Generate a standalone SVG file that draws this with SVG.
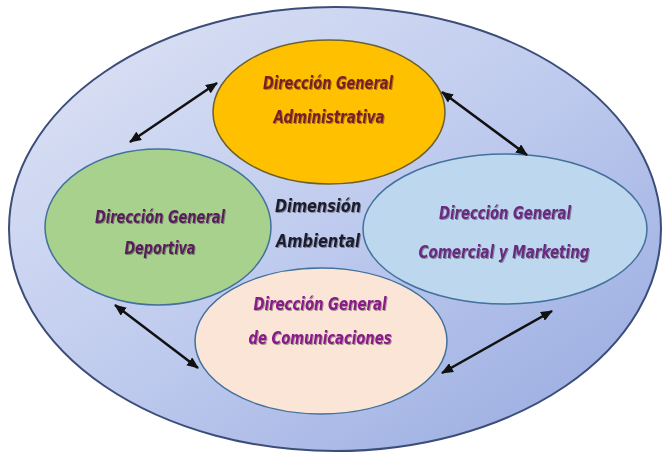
<svg xmlns="http://www.w3.org/2000/svg" width="665" height="456" viewBox="0 0 665 456">
<defs>
<linearGradient id="outerGrad" x1="0" y1="0" x2="1" y2="1">
<stop offset="0" stop-color="#dfe4f5"/>
<stop offset="0.5" stop-color="#bfcbee"/>
<stop offset="1" stop-color="#95a8df"/>
</linearGradient>
<filter id="shadow" x="-10%" y="-30%" width="120%" height="160%">
<feDropShadow dx="1" dy="1" stdDeviation="0.6" flood-color="#000" flood-opacity="0.35"/>
</filter>
<marker id="head" viewBox="0 0 12 10" refX="11" refY="5" markerWidth="12" markerHeight="10" markerUnits="userSpaceOnUse" orient="auto-start-reverse">
<path d="M0,0 L12,5 L0,10 Z" fill="#111"/>
</marker>
</defs>
<style>
.lbl{font-family:"Liberation Sans Narrow","DejaVu Sans Condensed","Liberation Sans",sans-serif;font-weight:bold;font-style:italic;font-size:17px;text-anchor:middle;filter:url(#shadow)}
.conn line{stroke:#111;stroke-width:2.5;marker-start:url(#head);marker-end:url(#head)}
</style>
<g id="outer">
<ellipse cx="335" cy="229" rx="326" ry="222" fill="url(#outerGrad)" stroke="#3b4d78" stroke-width="2"/>
<text class="lbl" x="318" y="212" fill="#1f1f2e" textLength="86" lengthAdjust="spacingAndGlyphs">Dimensión</text>
<text class="lbl" x="318" y="247" fill="#1f1f2e" textLength="84" lengthAdjust="spacingAndGlyphs">Ambiental</text>
</g>
<g id="deportiva">
<ellipse cx="158" cy="227" rx="113" ry="78" fill="#a9d18e" stroke="#41719c" stroke-width="1.5"/>
<text class="lbl" x="160" y="223" fill="#5a1f5e" textLength="130" lengthAdjust="spacingAndGlyphs">Dirección General</text>
<text class="lbl" x="160" y="254" fill="#5a1f5e" textLength="71" lengthAdjust="spacingAndGlyphs">Deportiva</text>
</g>
<g id="comercial">
<ellipse cx="505" cy="229" rx="142" ry="75" fill="#bdd7ee" stroke="#41719c" stroke-width="1.5"/>
<text class="lbl" x="505" y="219" fill="#6a2a80" textLength="132" lengthAdjust="spacingAndGlyphs">Dirección General</text>
<text class="lbl" x="504" y="258" fill="#6a2a80" textLength="171" lengthAdjust="spacingAndGlyphs">Comercial y Marketing</text>
</g>
<g id="administrativa">
<ellipse cx="329" cy="112" rx="116" ry="72" fill="#ffc000" stroke="#6b6030" stroke-width="1.5"/>
<text class="lbl" x="328" y="89" fill="#7a1f2c" textLength="130" lengthAdjust="spacingAndGlyphs">Dirección General</text>
<text class="lbl" x="329" y="123" fill="#7a1f2c" textLength="111" lengthAdjust="spacingAndGlyphs">Administrativa</text>
</g>
<g id="comunicaciones">
<ellipse cx="321" cy="341" rx="126" ry="73" fill="#fbe5d6" stroke="#41719c" stroke-width="1.5"/>
<text class="lbl" x="320" y="310" fill="#8a1a8a" textLength="133" lengthAdjust="spacingAndGlyphs">Dirección General</text>
<text class="lbl" x="320" y="344" fill="#8a1a8a" textLength="143" lengthAdjust="spacingAndGlyphs">de Comunicaciones</text>
</g>
<g id="connectors" class="conn">
<line x1="217" y1="83" x2="130" y2="142"/>
<line x1="442" y1="92" x2="527" y2="155"/>
<line x1="115" y1="305" x2="198" y2="368"/>
<line x1="552" y1="311" x2="442" y2="373"/>
</g>
</svg>
